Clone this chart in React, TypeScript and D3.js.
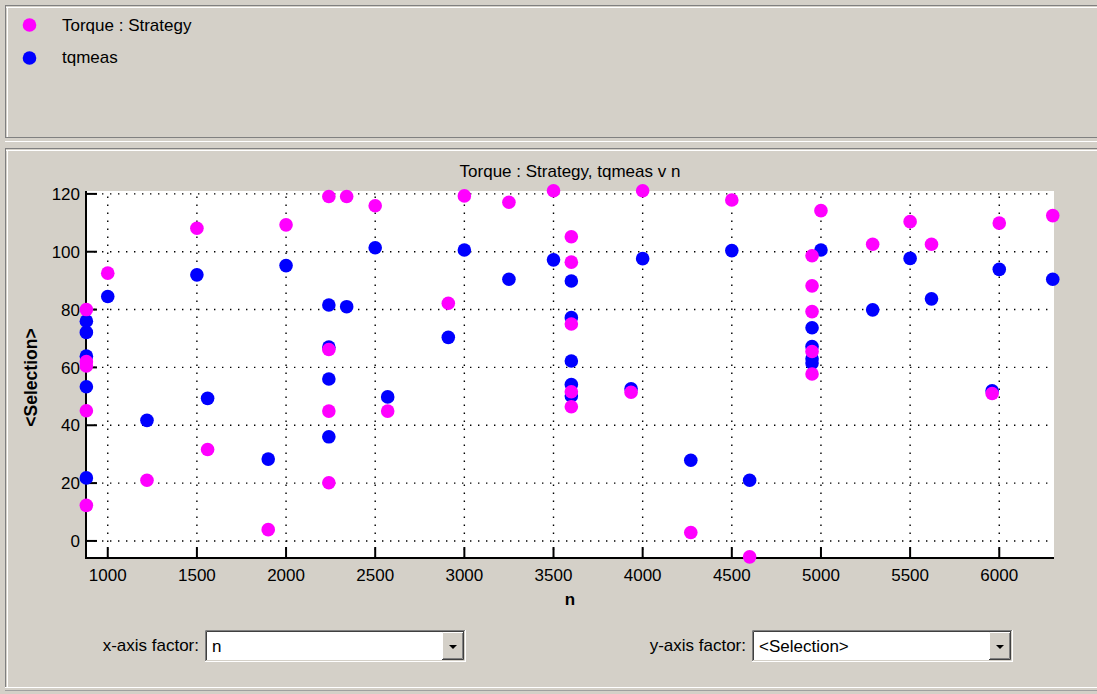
import React from "react";
import * as d3 from "d3";

// ---- data ----
const seriesNames = ["Torque : Strategy", "tqmeas"];
const seriesColors = ["#ff00ff", "#0000ff"];

const strategyN = [
  880, 880, 880, 880, 880, 1000, 1220, 1500, 1560, 1900, 2000,
  2240, 2240, 2240, 2240, 2340, 2500, 2570, 2910, 3000, 3250, 3500,
  3600, 3600, 3600, 3600, 3600, 3935, 4000, 4270, 4500, 4600,
  4950, 4950, 4950, 4950, 4950, 5000, 5290, 5500, 5620, 5960, 6000, 6300,
];
const strategyY = [
  80, 62, 60.5, 45, 12.3, 92.6, 21, 108.1, 31.6, 3.9, 109.3,
  119.1, 66.2, 44.9, 20.1, 119.1, 115.9, 44.9, 82.2, 119.3, 117.1, 121.1,
  105.2, 96.4, 75.0, 51.6, 46.4, 51.4, 121.1, 2.9, 117.9, -5.5,
  98.6, 88.2, 79.3, 65.5, 57.7, 114.2, 102.6, 110.4, 102.6, 51.0, 109.9, 112.5,
];

const tqmeasN = [
  880, 880, 880, 880, 880, 1000, 1220, 1500, 1560, 1900, 2000,
  2240, 2240, 2240, 2240, 2340, 2500, 2570, 2910, 3000, 3250, 3500,
  3600, 3600, 3600, 3600, 3600, 3935, 4000, 4270, 4500, 4600,
  4950, 4950, 4950, 4950, 5000, 5290, 5500, 5620, 5960, 6000, 6300,
];
const tqmeasY = [
  76, 72.1, 63.9, 53.3, 21.8, 84.5, 41.7, 92.0, 49.3, 28.3, 95.2,
  81.6, 67, 56.0, 36.0, 81.0, 101.4, 49.8, 70.4, 100.6, 90.5, 97.2,
  89.9, 77.2, 62.2, 54.1, 50.1, 52.6, 97.6, 27.9, 100.4, 21.0,
  73.7, 67.2, 63, 61.5, 100.6, 79.9, 97.7, 83.7, 51.9, 93.9, 90.5,
];

const xTicks = [1000, 1500, 2000, 2500, 3000, 3500, 4000, 4500, 5000, 5500, 6000];
const yTicks = [0, 20, 40, 60, 80, 100, 120];

const chartTitle = "Torque : Strategy, tqmeas v n";
const xLabel = "n";
const yLabel = "<Selection>";
const xFactorLabel = "x-axis factor:";
const yFactorLabel = "y-axis factor:";
const xFactorValue = "n";
const yFactorValue = "<Selection>";

const FONT = "'Liberation Sans', Arial, sans-serif";
const BG = "#d4d0c8";

function Dropdown({ x, y, w, h, text }: { x: number; y: number; w: number; h: number; text: string }) {
  const bw = 22;
  const bx = x + w - bw - 2;
  const by = y + 2;
  const bh = h - 4;
  return (
    <g>
      <rect x={x} y={y} width={w} height={h} fill="#ffffff" />
      {/* sunken border */}
      <path d={`M${x + 0.5},${y + h} V${y + 0.5} H${x + w}`} stroke="#808080" fill="none" />
      <path d={`M${x + 1.5},${y + h - 1} V${y + 1.5} H${x + w - 1}`} stroke="#404040" fill="none" />
      <path d={`M${x},${y + h - 0.5} H${x + w - 0.5} V${y}`} stroke="#ffffff" fill="none" />
      <path d={`M${x + 1},${y + h - 1.5} H${x + w - 1.5} V${y + 1}`} stroke={BG} fill="none" />
      {/* button */}
      <rect x={bx} y={by} width={bw} height={bh} fill={BG} />
      <path d={`M${bx + 0.5},${by + bh} V${by + 0.5} H${bx + bw}`} stroke="#ffffff" fill="none" />
      <path d={`M${bx},${by + bh - 0.5} H${bx + bw - 0.5} V${by}`} stroke="#404040" fill="none" />
      <path d={`M${bx + 1},${by + bh - 1.5} H${bx + bw - 1.5} V${by + 1}`} stroke="#808080" fill="none" />
      <path
        d={`M${bx + bw / 2 - 4},${by + bh / 2 - 1} h8 l-4,4 z`}
        fill="#000000"
      />
      <text
        x={x + 7}
        y={y + h / 2}
        dy="0.36em"
        fontFamily={FONT}
        fontSize={17}
        fill="#000"
      >
        {text}
      </text>
    </g>
  );
}

export default function App() {
  const W = 1097;
  const H = 694;
  const plotL = 86;
  const plotR = 1054;
  const plotT = 191;
  const plotB = 558;

  const x = d3.scaleLinear().domain([878, 6307]).range([plotL, plotR]);
  const y = d3.scaleLinear().domain([-5.9, 121]).range([plotB, plotT]);

  const tickLen = 11;
  const r = 6.8;

  const strategyPts = strategyN.map((n, i) => [n, strategyY[i]] as [number, number]);
  const tqmeasPts = tqmeasN.map((n, i) => [n, tqmeasY[i]] as [number, number]);

  return (
    <svg
      width={W}
      height={H}
      style={{ position: "absolute", left: 0, top: 0, display: "block" }}
      xmlns="http://www.w3.org/2000/svg"
    >
      <rect x={0} y={0} width={W} height={H} fill={BG} />

      {/* etched panel borders */}
      <line x1={5} x2={W} y1={5.5} y2={5.5} stroke="#808080" />
      <line x1={6} x2={W} y1={7.5} y2={7.5} stroke="#ffffff" />
      <line x1={5.5} x2={5.5} y1={5} y2={138} stroke="#808080" />
      <line x1={7.5} x2={7.5} y1={7} y2={137} stroke="#ffffff" />
      <line x1={5} x2={W} y1={137.5} y2={137.5} stroke="#808080" />
      <line x1={5} x2={W} y1={141.5} y2={141.5} stroke="#ffffff" />
      <line x1={5} x2={W} y1={148.5} y2={148.5} stroke="#808080" />
      <line x1={6} x2={W} y1={150.5} y2={150.5} stroke="#ffffff" />
      <line x1={5.5} x2={5.5} y1={148} y2={688} stroke="#808080" />
      <line x1={7.5} x2={7.5} y1={150} y2={687} stroke="#ffffff" />
      <line x1={5} x2={W} y1={687.5} y2={687.5} stroke="#ffffff" />
      <line x1={5} x2={W} y1={690.5} y2={690.5} stroke="#a0a0a0" />

      {/* legend */}
      {seriesNames.map((name, i) => (
        <g key={name}>
          <circle cx={29.5} cy={25 + i * 33} r={r} fill={seriesColors[i]} />
          <text
            x={62}
            y={25 + i * 32}
            dy="0.36em"
            fontFamily={FONT}
            fontSize={17}
            fill="#000"
          >
            {name}
          </text>
        </g>
      ))}

      {/* title */}
      <text
        x={(plotL + plotR) / 2}
        y={171}
        dy="0.36em"
        textAnchor="middle"
        fontFamily={FONT}
        fontSize={17}
        fill="#000"
      >
        {chartTitle}
      </text>

      {/* plot area */}
      <rect x={plotL} y={plotT} width={plotR - plotL} height={plotB - plotT} fill="#ffffff" />

      {/* grid */}
      {xTicks.map((t) => (
        <line
          key={"gx" + t}
          x1={x(t)}
          x2={x(t)}
          y1={plotB}
          y2={plotT}
          stroke="#000"
          strokeWidth={1.4}
          strokeDasharray="1.4 6.6"
        />
      ))}
      {yTicks.map((t) => (
        <line
          key={"gy" + t}
          x1={plotL}
          x2={plotR}
          y1={y(t)}
          y2={y(t)}
          stroke="#000"
          strokeWidth={1.4}
          strokeDasharray="1.4 6.6"
        />
      ))}

      {/* axes */}
      <line x1={plotL} x2={plotL} y1={plotT} y2={plotB + 1} stroke="#000" strokeWidth={2} />
      <line x1={plotL - 1} x2={plotR} y1={plotB} y2={plotB} stroke="#000" strokeWidth={2} />
      {xTicks.map((t) => (
        <g key={"tx" + t}>
          <line x1={x(t)} x2={x(t)} y1={plotB} y2={plotB - tickLen} stroke="#000" strokeWidth={2} />
          <text
            x={x(t)}
            y={575}
            dy="0.36em"
            textAnchor="middle"
            fontFamily={FONT}
            fontSize={17}
            fill="#000"
          >
            {t}
          </text>
        </g>
      ))}
      {yTicks.map((t) => (
        <g key={"ty" + t}>
          <line x1={plotL} x2={plotL + tickLen} y1={y(t)} y2={y(t)} stroke="#000" strokeWidth={2} />
          <text
            x={80}
            y={y(t)}
            dy="0.36em"
            textAnchor="end"
            fontFamily={FONT}
            fontSize={17}
            fill="#000"
          >
            {t}
          </text>
        </g>
      ))}

      {/* axis labels */}
      <text
        x={(plotL + plotR) / 2}
        y={599}
        dy="0.36em"
        textAnchor="middle"
        fontFamily={FONT}
        fontSize={17}
        fontWeight="bold"
        fill="#000"
      >
        {xLabel}
      </text>
      <text
        transform={`translate(31,${(plotT + plotB) / 2 + 3}) rotate(-90)`}
        dy="0.36em"
        textAnchor="middle"
        fontFamily={FONT}
        fontSize={17.5}
        fontWeight="bold"
        fill="#000"
      >
        {yLabel}
      </text>

      {/* points: tqmeas first, strategy on top */}
      {tqmeasPts.map(([n, v], i) => (
        <circle key={"b" + i} cx={x(n)} cy={y(v)} r={r} fill={seriesColors[1]} />
      ))}
      {strategyPts.map(([n, v], i) => (
        <circle key={"m" + i} cx={x(n)} cy={y(v)} r={r} fill={seriesColors[0]} />
      ))}

      {/* factor selectors */}
      <text x={199} y={645} dy="0.36em" textAnchor="end" fontFamily={FONT} fontSize={17} fill="#000">
        {xFactorLabel}
      </text>
      <Dropdown x={205} y={630} w={261} h={32} text={xFactorValue} />
      <text x={746} y={645} dy="0.36em" textAnchor="end" fontFamily={FONT} fontSize={17} fill="#000">
        {yFactorLabel}
      </text>
      <Dropdown x={752} y={630} w={261} h={32} text={yFactorValue} />
    </svg>
  );
}
